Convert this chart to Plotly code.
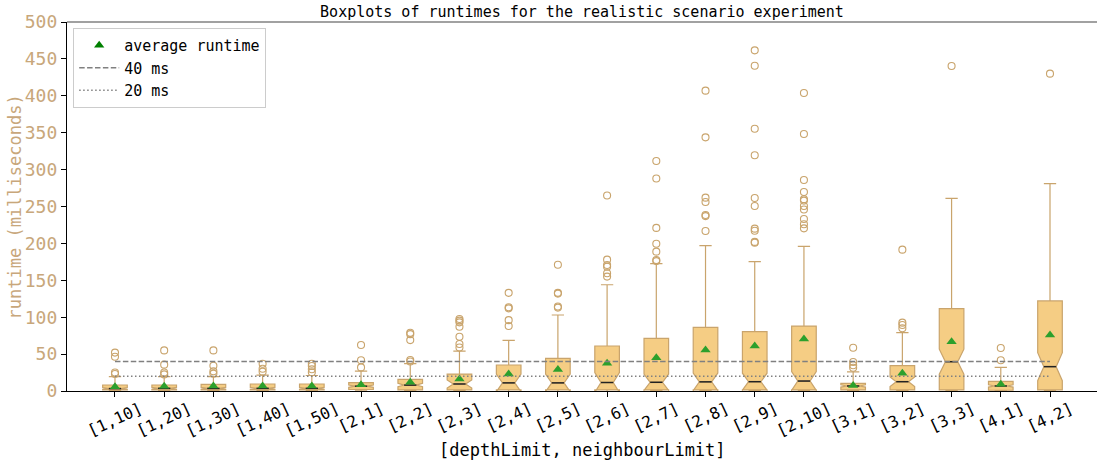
import plotly.graph_objects as go

# Parameter combinations [depthLimit, neighbourLimit]
categories = ["[1,10]", "[1,20]", "[1,30]", "[1,40]", "[1,50]",
              "[2,1]", "[2,2]", "[2,3]", "[2,4]", "[2,5]",
              "[2,6]", "[2,7]", "[2,8]", "[2,9]", "[2,10]",
              "[3,1]", "[3,2]", "[3,3]", "[4,1]", "[4,2]"]

# Box statistics (milliseconds)
q1 = [1.5, 1.5, 1.5, 1.5, 1.5, 2.0, 1.5, 1.5, 1.5, 1.5,
      1.5, 1.5, 1.5, 1.5, 1.5, 1.5, 1.5, 1.5, 1.0, 1.5]
median = [3.3, 3.6, 3.5, 3.6, 3.6, 6.5, 8.0, 9.5, 11.0, 11.0,
          11.5, 11.8, 12.4, 12.6, 13.5, 6.8, 12.6, 39.7, 6.8, 33.0]
q3 = [8.1, 8.1, 9.0, 9.5, 9.5, 11.3, 15.8, 23.0, 35.2, 44.3,
      61.0, 71.4, 86.3, 80.4, 88.0, 10.4, 34.3, 111.5, 13.1, 122.0]
lower_whisker = [0.3] * 20
upper_whisker = [19.5, 19.5, 19.5, 21.5, 21.0, 27.0, 37.0, 54.0, 68.5, 103.0,
                 144.0, 172.5, 197.0, 175.2, 196.0, 26.0, 79.0, 261.0, 32.1, 281.0]
notch_half = [1.2, 1.2, 1.3, 1.3, 1.3, 1.5, 2.3, 5.5, 12.0, 12.0,
              13.5, 11.0, 12.0, 11.5, 12.7, 1.5, 6.5, 17.0, 1.5, 19.0]
mean_runtime = [5.9, 6.5, 6.8, 6.8, 6.8, 8.5, 11.8, 16.3, 23.0, 29.0,
                37.5, 45.0, 55.6, 61.0, 70.5, 7.5, 24.0, 66.8, 9.0, 75.9]
outliers = [
    [52.0, 46.5, 25.0, 23.0],
    [55.0, 35.7, 25.0, 22.5],
    [55.0, 34.3, 26.6, 23.5],
    [37.0, 30.2, 26.2],
    [37.0, 33.9, 29.4, 25.3],
    [62.3, 41.6, 32.0],
    [79.0, 77.0, 69.0, 42.0, 40.0],
    [97.6, 95.3, 93.0, 87.0, 73.6, 63.7, 59.0],
    [133.0, 113.4, 112.0, 96.0, 88.0],
    [171.0, 133.0, 132.0, 114.5, 113.0],
    [265.0, 178.0, 170.7, 168.5, 159.5, 155.0],
    [311.7, 288.0, 221.0, 199.6, 188.8, 177.5, 176.0],
    [407.0, 343.7, 262.0, 256.0, 238.5, 237.0, 216.8],
    [461.6, 440.8, 355.4, 319.4, 261.5, 250.7, 220.0, 217.2, 202.0, 201.0],
    [403.8, 348.2, 286.0, 269.6, 259.8, 258.0, 250.7, 246.0, 233.0, 225.9, 220.4],
    [58.7, 39.3, 34.8, 31.6],
    [191.5, 92.6, 89.4, 85.0],
    [440.4],
    [58.3, 41.6],
    [430.0],
]

# Reference thresholds
thresholds = [40, 20]
threshold_names = ["40 ms", "20 ms"]
threshold_dash = ["5.5px,2.4px", "1.5px,2.5px"]

FONT = "DejaVu Sans Mono"
TAN = "#c9a46c"
FILL = "#f5cd84"
TICK_TAN = "#c8a77b"

pos = list(range(len(categories)))
box_width = 0.5
waist = box_width * 0.25  # half width of the notch waist

fig = go.Figure()

fig.add_trace(go.Box(
    x=pos, q1=q1, median=median, q3=q3,
    lowerfence=lower_whisker, upperfence=upper_whisker,
    notchspan=notch_half, notched=True, notchwidth=0.25,
    width=box_width, whiskerwidth=0.5,
    fillcolor=FILL, line=dict(color=TAN, width=1.2),
    boxpoints=False, showlegend=False, hoverinfo="skip",
))

# Median bars drawn in black across the notch waist
mx, my = [], []
for p, m in zip(pos, median):
    mx += [p - waist, p + waist, None]
    my += [m, m, None]
fig.add_trace(go.Scatter(x=mx, y=my, mode="lines",
                         line=dict(color="#222222", width=1.5),
                         showlegend=False, hoverinfo="skip"))

# Outlier points
ox, oy = [], []
for p, vals in zip(pos, outliers):
    ox += [p] * len(vals)
    oy += vals
fig.add_trace(go.Scatter(x=ox, y=oy, mode="markers",
                         marker=dict(symbol="circle-open", size=7,
                                     color=TAN, line=dict(width=1.1)),
                         showlegend=False, hoverinfo="skip"))

# Mean markers
fig.add_trace(go.Scatter(x=pos, y=mean_runtime, mode="markers",
                         marker=dict(symbol="triangle-up", size=9, color="#2ca02c"),
                         showlegend=False, hoverinfo="skip"))
fig.add_trace(go.Scatter(x=[None], y=[None], mode="markers", name="average runtime",
                         marker=dict(symbol="triangle-up", size=9, color="green")))

for val, name, dash in zip(thresholds, threshold_names, threshold_dash):
    fig.add_trace(go.Scatter(x=[pos[0], pos[-1]], y=[val, val], mode="lines",
                             name=name,
                             line=dict(color="#808080", width=1.5, dash=dash),
                             hoverinfo="skip"))

# Rotated category labels centred beneath each tick
for p, c in zip(pos, categories):
    fig.add_annotation(x=p, xref="x", y=0, yref="paper", text=c,
                       showarrow=False, textangle=-25,
                       xanchor="center", yanchor="top", yshift=-5,
                       font=dict(family=FONT, size=16, color="black"))

fig.add_annotation(x=0.5, xref="paper", y=-0.16, yref="paper",
                   text="[depthLimit, neighbourLimit]", showarrow=False,
                   xanchor="center", yanchor="middle",
                   font=dict(family=FONT, size=17, color="black"))
fig.add_annotation(x=-0.0505, xref="paper", y=0.5, yref="paper",
                   text="runtime (milliseconds)", showarrow=False, textangle=-90,
                   xanchor="center", yanchor="middle",
                   font=dict(family=FONT, size=17, color=TICK_TAN))

# Top spine
fig.add_shape(type="line", xref="paper", yref="paper", x0=0, x1=1, y0=1, y1=1,
              line=dict(color="#444444", width=1.2))

fig.update_layout(
    width=1097, height=461,
    margin=dict(l=67, r=0, t=22, b=70),
    paper_bgcolor="white", plot_bgcolor="white",
    font=dict(family=FONT, color="black"),
    title=dict(text="Boxplots of runtimes for the realistic scenario experiment",
               x=0.5, xref="paper", y=1 - 12 / 461, yref="container",
               xanchor="center", yanchor="middle",
               font=dict(family=FONT, size=15, color="black")),
    showlegend=True,
    legend=dict(x=0.006, y=0.984, xanchor="left", yanchor="top",
                bgcolor="rgba(255,255,255,0.85)", bordercolor="#cccccc", borderwidth=1,
                font=dict(family=FONT, size=15, color="black"),
                itemwidth=40, tracegroupgap=0),
    xaxis=dict(range=[-0.975, 19.955], tickmode="array", tickvals=pos,
               showticklabels=False, ticks="outside", ticklen=5, tickwidth=1.2,
               tickcolor="black", showline=True, linecolor="black", linewidth=1.3,
               showgrid=False, zeroline=False),
    yaxis=dict(range=[0, 500], dtick=50, ticks="outside", ticklen=5, tickwidth=1.2,
               tickcolor="black", showline=True, linecolor="black", linewidth=1.3,
               showgrid=False, zeroline=False,
               tickfont=dict(family=FONT, size=18, color=TICK_TAN)),
)

fig.write_html("out.html")
